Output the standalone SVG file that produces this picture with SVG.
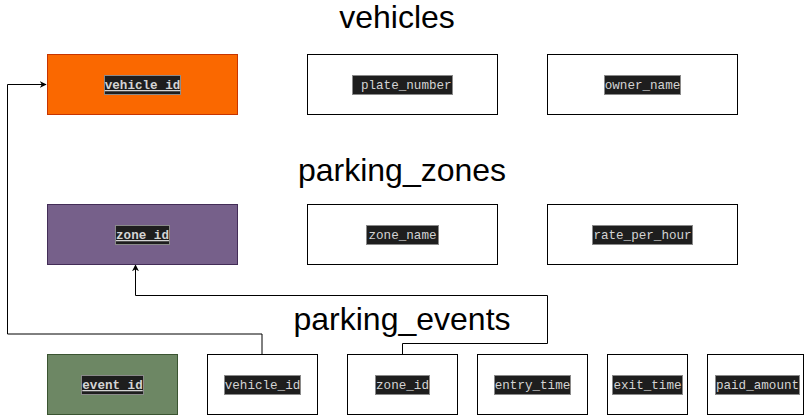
<svg xmlns="http://www.w3.org/2000/svg" width="808" height="415" viewBox="0 0 808 415">
<defs>
<marker id="arr" viewBox="0 0 10 10" refX="9" refY="5" markerWidth="7" markerHeight="7" orient="auto" markerUnits="userSpaceOnUse"><path d="M0,0 L10,5 L0,10 L3,5 Z" fill="#000"/></marker>
</defs>
<style>
.box{fill:#fff;stroke:#000;stroke-width:1}
.hl{fill:#1E1E1E;stroke:#8a8a8a;stroke-width:1}
.t{font-family:"Liberation Mono","DejaVu Sans Mono",monospace;font-size:12.6px;fill:#D4D4D4;text-anchor:middle}
.k{text-decoration:underline;font-weight:bold}
.title{font-family:"Liberation Sans",Arial,sans-serif;font-size:32px;fill:#000;text-anchor:middle}
.c{fill:none;stroke:#000;stroke-width:1}
</style>
<rect width="808" height="415" fill="#fff"/>
<text class="title" x="397" y="28">vehicles</text>
<text class="title" x="402" y="181">parking_zones</text>
<text class="title" x="402" y="330">parking_events</text>
<g id="connectors">
<path class="c" d="M262,354 V334 H7.5 V84.5 H46" marker-end="url(#arr)"/>
<path class="c" d="M402.5,354 V343.5 H547.5 V295.5 H135.5 V265" marker-end="url(#arr)"/>
</g>
<g id="vehicles_vehicle_id">
<rect x="47.5" y="54.5" width="190" height="60" fill="#FA6800" stroke="#C73500"/>
<rect class="hl" x="104.5" y="75.5" width="76" height="19"/>
<text class="t k" x="142.5" y="89">vehicle_id</text>
</g>
<g id="vehicles_plate_number">
<rect class="box" x="307.5" y="54.5" width="190" height="60"/>
<rect class="hl" x="352.5" y="75.5" width="100" height="19"/>
<text class="t" x="402.5" y="89" xml:space="preserve"> plate_number</text>
</g>
<g id="vehicles_owner_name">
<rect class="box" x="547.5" y="54.5" width="190" height="60"/>
<rect class="hl" x="604.5" y="75.5" width="76" height="19"/>
<text class="t" x="642.5" y="89">owner_name</text>
</g>
<g id="zones_zone_id">
<rect x="47.5" y="204.5" width="190" height="60" fill="#76608A" stroke="#432D57"/>
<rect class="hl" x="115.5" y="225.5" width="54" height="19"/>
<text class="t k" x="142.5" y="239">zone_id</text>
</g>
<g id="zones_zone_name">
<rect class="box" x="307.5" y="204.5" width="190" height="60"/>
<rect class="hl" x="366.5" y="225.5" width="72" height="19"/>
<text class="t" x="402.5" y="239">zone_name</text>
</g>
<g id="zones_rate_per_hour">
<rect class="box" x="547.5" y="204.5" width="190" height="60"/>
<rect class="hl" x="592.5" y="225.5" width="100" height="19"/>
<text class="t" x="642.5" y="239">rate_per_hour</text>
</g>
<g id="events_event_id">
<rect x="47.5" y="354.5" width="130" height="60" fill="#6D8764" stroke="#3A5431"/>
<rect class="hl" x="81.5" y="375.5" width="62" height="19"/>
<text class="t k" x="112.5" y="389">event_id</text>
</g>
<g id="events_vehicle_id">
<rect class="box" x="207.5" y="354.5" width="110" height="60"/>
<rect class="hl" x="224.5" y="375.5" width="76" height="19"/>
<text class="t" x="262.5" y="389">vehicle_id</text>
</g>
<g id="events_zone_id">
<rect class="box" x="347.5" y="354.5" width="110" height="60"/>
<rect class="hl" x="375.5" y="375.5" width="54" height="19"/>
<text class="t" x="402.5" y="389">zone_id</text>
</g>
<g id="events_entry_time">
<rect class="box" x="477.5" y="354.5" width="110" height="60"/>
<rect class="hl" x="494.5" y="375.5" width="76" height="19"/>
<text class="t" x="532.5" y="389">entry_time</text>
</g>
<g id="events_exit_time">
<rect class="box" x="607.5" y="354.5" width="80" height="60"/>
<rect class="hl" x="612.5" y="375.5" width="70" height="19"/>
<text class="t" x="647.5" y="389">exit_time</text>
</g>
<g id="events_paid_amount">
<rect class="box" x="707.5" y="354.5" width="96" height="60"/>
<rect class="hl" x="715.5" y="375.5" width="84" height="19"/>
<text class="t" x="757.5" y="389">paid_amount</text>
</g>
</svg>
